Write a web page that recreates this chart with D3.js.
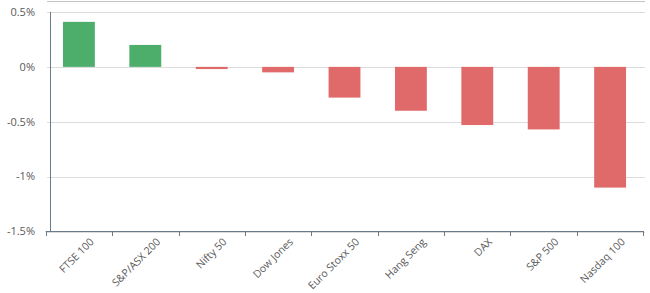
<!DOCTYPE html>
<html><head><meta charset="utf-8">
<script src="https://cdn.jsdelivr.net/npm/d3@7"></script>
<style>body{margin:0;background:#fff;} svg{display:block;font-family:"Open Sans",sans-serif;}</style>
</head><body><svg id="c" width="650" height="293"></svg>
<script>
const categories = ["FTSE 100","S&P/ASX 200","Nifty 50","Dow Jones","Euro Stoxx 50","Hang Seng","DAX","S&P 500","Nasdaq 100"];
const values = [0.41,0.20,-0.02,-0.05,-0.28,-0.40,-0.53,-0.57,-1.10];
const yTicks = [0.5,0,-0.5,-1,-1.5];
const yTickLabels = ["0.5%","0%","-0.5%","-1%","-1.5%"];

const svg = d3.select("#c");
const x = d3.scaleBand().domain(categories).range([45.7,643.3]).paddingInner(0.52).paddingOuter(0.26);
const y = d3.scaleLinear().domain([-1.5,0.5]).range([231.5,12]);

svg.append("line").attr("x1",47).attr("x2",645).attr("y1",1.5).attr("y2",1.5).attr("stroke","#c4c4c4");

svg.append("g").selectAll("line").data(yTicks).join("line")
  .attr("x1",47).attr("x2",645).attr("y1",d=>Math.round(y(d))+0.5).attr("y2",d=>Math.round(y(d))+0.5)
  .attr("stroke","#dcdcdc");

svg.append("g").selectAll("text").data(yTicks).join("text")
  .attr("x",35).attr("y",d=>y(d)).attr("dy","0.35em").attr("text-anchor","end")
  .attr("font-size",11).attr("fill","#595959").text((d,i)=>yTickLabels[i]);

const y0 = y(0);
svg.append("g").selectAll("rect").data(values).join("rect")
  .attr("x",(d,i)=>x(categories[i])).attr("width",x.bandwidth())
  .attr("y",d=>Math.min(y(d),y0)).attr("height",d=>Math.abs(y(d)-y0))
  .attr("fill",d=>d>=0?"#4cae6a":"#e06a6a");

svg.append("line").attr("x1",50.5).attr("x2",50.5).attr("y1",12).attr("y2",231).attr("stroke","#6b7a8a");

const edges = d3.range(categories.length+1).map(i=>45.7+i*(643.3-45.7)/categories.length);
svg.append("line").attr("x1",45.7).attr("x2",643.3).attr("y1",231.5).attr("y2",231.5).attr("stroke","#6b7a8a");
svg.append("g").selectAll("line").data(edges).join("line")
  .attr("x1",d=>Math.round(d)+0.5).attr("x2",d=>Math.round(d)+0.5).attr("y1",231).attr("y2",236).attr("stroke","#6b7a8a");

svg.append("g").selectAll("text").data(categories).join("text")
  .attr("transform",d=>`translate(${x(d)+x.bandwidth()/2+13},${240}) rotate(-45)`)
  .attr("text-anchor","end").attr("font-size",10.5).attr("fill","#595959").attr("dy","0.35em").text(d=>d);
</script></body></html>
